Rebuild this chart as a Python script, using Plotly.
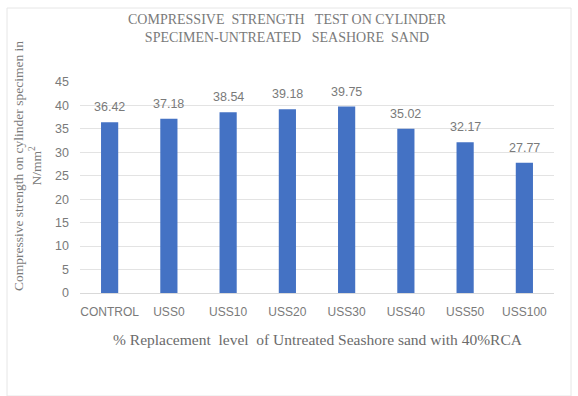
import plotly.graph_objects as go

# Mix designations and 28-day cylinder compressive strengths (N/mm²)
mixes = ["CONTROL", "USS0", "USS10", "USS20", "USS30", "USS40", "USS50", "USS100"]
strength = [36.42, 37.18, 38.54, 39.18, 39.75, 35.02, 32.17, 27.77]
strength_labels = ["36.42", "37.18", "38.54", "39.18", "39.75", "35.02", "32.17", "27.77"]
y_ticks = [0, 5, 10, 15, 20, 25, 30, 35, 40, 45]

W, H = 578, 396
L, R, T, B = 80, 24, 82, 103
pw = W - L - R
ph = H - T - B


def px_x(x):
    return (x - L) / pw


def px_y(y):
    return (H - B - y) / ph


SANS = "Liberation Sans, Arial, sans-serif"
SERIF = "Liberation Serif, Times New Roman, serif"
GREY = "#7a7a7a"

fig = go.Figure(
    go.Bar(
        x=mixes,
        y=strength,
        marker=dict(color="#4472C4", line=dict(width=0)),
    )
)

# value labels sitting a little above each bar
value_notes = [
    dict(
        x=m, y=v, xref="x", yref="y",
        text=t, showarrow=False,
        xanchor="center", yanchor="bottom", yshift=6,
        font=dict(family=SANS, size=12.5, color=GREY),
    )
    for m, v, t in zip(mixes, strength, strength_labels)
]

fig.update_layout(
    width=W,
    height=H,
    margin=dict(l=L, r=R, t=T, b=B),
    paper_bgcolor="white",
    plot_bgcolor="white",
    bargap=0.71,
    showlegend=False,
    xaxis=dict(
        showgrid=False,
        showline=True,
        linecolor="#d9d9d9",
        linewidth=1,
        tickfont=dict(family=SANS, size=12, color=GREY),
        ticklabelstandoff=8,
    ),
    yaxis=dict(
        range=[0, 45],
        tickvals=y_ticks,
        showgrid=True,
        gridcolor="#e3e3e3",
        gridwidth=1,
        zeroline=False,
        tickfont=dict(family=SANS, size=12.5, color=GREY),
        ticklabelstandoff=10,
    ),
    annotations=value_notes + [
        dict(
            text="COMPRESSIVE&nbsp;&nbsp;STRENGTH&nbsp;&nbsp; TEST ON CYLINDER<br>"
                 "SPECIMEN-UNTREATED&nbsp;&nbsp; SEASHORE&nbsp; SAND",
            xref="paper", yref="paper",
            x=px_x(287), y=px_y(29),
            xanchor="center", yanchor="middle",
            showarrow=False,
            font=dict(family=SERIF, size=14, color="#7a7a7a"),
        ),
        dict(
            text="Compressive strength on cylinder specimen in<br>N/mm<sup>2</sup>",
            xref="paper", yref="paper",
            x=px_x(27), y=px_y(166),
            xanchor="center", yanchor="middle",
            textangle=-90,
            showarrow=False,
            font=dict(family=SERIF, size=13.5, color="#7a7a7a"),
        ),
        dict(
            text="% Replacement&nbsp; level&nbsp; of Untreated Seashore sand with 40%RCA",
            xref="paper", yref="paper",
            x=px_x(318), y=px_y(339),
            xanchor="center", yanchor="middle",
            showarrow=False,
            font=dict(family=SERIF, size=15.5, color="#6b6b6b"),
        ),
    ],
    shapes=[
        dict(
            type="rect", xref="paper", yref="paper",
            x0=px_x(7), x1=px_x(571), y0=px_y(396), y1=px_y(8),
            line=dict(color="#e6e6e6", width=1),
            fillcolor="rgba(0,0,0,0)",
            layer="below",
        ),
    ],
)

fig.write_html("out.html")
